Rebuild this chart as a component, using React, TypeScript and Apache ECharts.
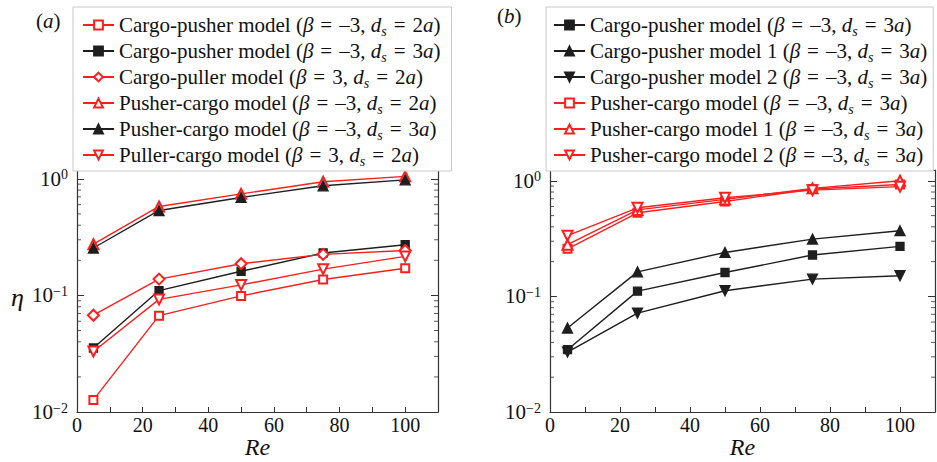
import React, { useEffect, useRef } from 'react';
import * as echarts from 'echarts';

// ---------- data ----------
const reValues = [5, 25, 50, 75, 100];

// panel (a)
const aCargoPusher2a = [0.0127, 0.067, 0.099, 0.137, 0.171];
const aCargoPusher3a = [0.0354, 0.11, 0.161, 0.231, 0.272];
const aCargoPuller2a = [0.0676, 0.138, 0.187, 0.225, 0.243];
const aPusherCargo2a = [0.275, 0.579, 0.743, 0.943, 1.05];
const aPusherCargo3a = [0.255, 0.535, 0.692, 0.871, 0.98];
const aPullerCargo2a = [0.033, 0.0924, 0.123, 0.168, 0.216];

// panel (b)
const bCargoPusher = [0.0346, 0.111, 0.161, 0.228, 0.271];
const bCargoPusher1 = [0.0533, 0.163, 0.24, 0.313, 0.37];
const bCargoPusher2 = [0.033, 0.0717, 0.112, 0.141, 0.151];
const bPusherCargo = [0.258, 0.529, 0.662, 0.85, 0.93];
const bPusherCargo1 = [0.28, 0.56, 0.69, 0.86, 1.0];
const bPusherCargo2 = [0.335, 0.584, 0.713, 0.83, 0.89];

const xTickLabels = [0, 20, 40, 60, 80, 100];
const yMajorTicks = [0.01, 0.1, 1];
const yMinorTicks = [
  0.02, 0.03, 0.04, 0.05, 0.06, 0.07, 0.08, 0.09,
  0.2, 0.3, 0.4, 0.5, 0.6, 0.7, 0.8, 0.9,
];

const X_MIN = 0;
const X_MAX = 110;
const Y_MIN = 0.01;
const Y_MAX_A = 1.19;
const Y_MAX_B = 1.24;

// ---------- styles ----------
const FONT = "'Liberation Serif', serif";
const RED = '#ff1e1e';
const BLACK = '#1e1e1e';
const AXIS = '#333';
const TEXT = '#111';

type Entry = {
  label: string;
  beta: string;
  d: string;
  data: number[];
  color: string;
  symbol: string;
  rotate: number;
  size: number;
};

const entriesA: Entry[] = [
  { label: 'Cargo-pusher model', beta: '–3', d: '2', data: aCargoPusher2a, color: RED, symbol: 'emptyRect', rotate: 0, size: 8 },
  { label: 'Cargo-pusher model', beta: '–3', d: '3', data: aCargoPusher3a, color: BLACK, symbol: 'rect', rotate: 0, size: 8 },
  { label: 'Cargo-puller model', beta: '3', d: '2', data: aCargoPuller2a, color: RED, symbol: 'emptyDiamond', rotate: 0, size: 11 },
  { label: 'Pusher-cargo model', beta: '–3', d: '2', data: aPusherCargo2a, color: RED, symbol: 'emptyTriangle', rotate: 0, size: 10 },
  { label: 'Pusher-cargo model', beta: '–3', d: '3', data: aPusherCargo3a, color: BLACK, symbol: 'triangle', rotate: 0, size: 10 },
  { label: 'Puller-cargo model', beta: '3', d: '2', data: aPullerCargo2a, color: RED, symbol: 'emptyTriangle', rotate: 180, size: 10 },
];

const entriesB: Entry[] = [
  { label: 'Cargo-pusher model', beta: '–3', d: '3', data: bCargoPusher, color: BLACK, symbol: 'rect', rotate: 0, size: 8 },
  { label: 'Cargo-pusher model 1', beta: '–3', d: '3', data: bCargoPusher1, color: BLACK, symbol: 'triangle', rotate: 0, size: 10 },
  { label: 'Cargo-pusher model 2', beta: '–3', d: '3', data: bCargoPusher2, color: BLACK, symbol: 'triangle', rotate: 180, size: 10 },
  { label: 'Pusher-cargo model', beta: '–3', d: '3', data: bPusherCargo, color: RED, symbol: 'emptyRect', rotate: 0, size: 8 },
  { label: 'Pusher-cargo model 1', beta: '–3', d: '3', data: bPusherCargo1, color: RED, symbol: 'emptyTriangle', rotate: 0, size: 10 },
  { label: 'Pusher-cargo model 2', beta: '–3', d: '3', data: bPusherCargo2, color: RED, symbol: 'emptyTriangle', rotate: 180, size: 10 },
];

const nameOf = (panel: string, e: Entry) => `(${panel}) ${e.label} (β = ${e.beta}, ds = ${e.d}a)`;
const richOf = (e: Entry) =>
  `{t|${e.label} (}{i|β}{e|=}{t|${e.beta}, }{i|d}{s|s}{e|=}{t|${e.d}}{i|a}{t|)}`;

const richMap: Record<string, string> = {};
entriesA.forEach((e) => {
  richMap[nameOf('a', e)] = richOf(e);
});
entriesB.forEach((e) => {
  richMap[nameOf('b', e)] = richOf(e);
});

const LEG_FS = 21;
const legendRich = {
  t: { fontFamily: FONT, fontSize: LEG_FS, lineHeight: 26, color: TEXT },
  i: { fontFamily: FONT, fontSize: LEG_FS, lineHeight: 26, color: TEXT, fontStyle: 'italic' },
  e: { fontFamily: FONT, fontSize: LEG_FS, lineHeight: 26, color: TEXT, padding: [0, 7, 0, 7] },
  s: {
    fontFamily: FONT,
    fontSize: 14,
    lineHeight: 14,
    color: TEXT,
    fontStyle: 'italic',
    padding: [12, 0, 0, 0],
    verticalAlign: 'bottom',
  },
};

function makeSeries(panel: string, e: Entry, xAxisIndex: number, yAxisIndex: number) {
  return {
    type: 'line',
    name: nameOf(panel, e),
    xAxisIndex,
    yAxisIndex,
    data: reValues.map((x, i) => [x, e.data[i]]),
    symbol: e.symbol,
    symbolSize: e.size,
    symbolRotate: e.rotate,
    showAllSymbol: true,
    lineStyle: { color: e.color, width: 1.4 },
    itemStyle: { color: e.color, borderColor: e.color, borderWidth: 1.3 },
    z: 3,
  };
}

// minor ticks of the log axes, drawn as tiny scatter marks on the left and right frame edges
function minorTickSeries(xAxisIndex: number, yAxisIndex: number, atX: number, offset: number) {
  return {
    type: 'scatter',
    xAxisIndex,
    yAxisIndex,
    silent: true,
    clip: false,
    z: 1,
    data: yMinorTicks.map((v) => [atX, v]),
    symbol: 'rect',
    symbolSize: [4, 1],
    symbolOffset: [offset, 0],
    itemStyle: { color: AXIS },
  };
}

function xAxis(gridIndex: number) {
  return {
    type: 'value',
    gridIndex,
    min: X_MIN,
    max: X_MAX,
    interval: 10,
    name: 'Re',
    nameLocation: 'middle',
    nameGap: 23,
    nameMoveOverlap: false,
    nameTextStyle: {
      fontFamily: FONT,
      fontSize: 24,
      lineHeight: 24,
      fontStyle: 'italic',
      color: TEXT,
      verticalAlign: 'top',
    },
    axisLine: { show: true, lineStyle: { color: AXIS, width: 1.2 } },
    axisTick: { show: true, inside: true, length: 5, lineStyle: { color: AXIS, width: 1 } },
    axisLabel: {
      margin: 3,
      fontFamily: FONT,
      fontSize: 20,
      color: TEXT,
      formatter: (v: number) => (xTickLabels.indexOf(v) >= 0 ? String(v) : ''),
    },
    splitLine: { show: false },
  };
}

const supLabel = (v: number) => {
  const e = Math.round(Math.log10(v));
  const isMajor = yMajorTicks.some((t) => Math.abs(t - v) / t < 1e-6);
  if (!isMajor) return '';
  const ex = e === 0 ? '0' : '−' + String(-e);
  return `{b|10}{p|${ex}}`;
};

function yAxis(gridIndex: number, position: 'left' | 'right', max: number) {
  const isLeft = position === 'left';
  return {
    type: 'log',
    gridIndex,
    position,
    logBase: 10,
    min: Y_MIN,
    max,
    axisLine: { show: true, onZero: false, lineStyle: { color: AXIS, width: 1.2 } },
    axisTick: { show: true, inside: true, length: 7, lineStyle: { color: AXIS, width: 1 } },
    axisLabel: {
      show: isLeft,
      margin: 9,
      formatter: supLabel,
      rich: {
        b: { fontFamily: FONT, fontSize: 21, lineHeight: 22, color: TEXT },
        p: { fontFamily: FONT, fontSize: 14, lineHeight: 14, color: TEXT, verticalAlign: 'top' },
      },
    },
    splitLine: { show: false },
    minorTick: { show: false },
  };
}

function legend(panel: string, entries: Entry[], left: number, padding: number[]) {
  return {
    orient: 'vertical',
    left,
    top: 7,
    data: entries.map((e) => nameOf(panel, e)),
    selectedMode: false,
    itemWidth: 31,
    itemHeight: 11,
    itemGap: 0,
    padding,
    backgroundColor: '#fff',
    borderColor: '#c8c8c8',
    borderWidth: 1,
    formatter: (name: string) => richMap[name] || name,
    textStyle: { fontFamily: FONT, fontSize: LEG_FS, color: TEXT, rich: legendRich },
  };
}

const panelLabelRich = {
  t: { fontFamily: FONT, fontSize: 21, fill: TEXT },
  i: { fontFamily: FONT, fontSize: 21, fill: TEXT, fontStyle: 'italic' },
};

export default function App() {
  const ref = useRef<HTMLDivElement>(null);

  useEffect(() => {
    if (!ref.current) return;
    const chart = echarts.init(ref.current, null, { renderer: 'svg' });
    const option: any = {
      animation: false,
      backgroundColor: '#fff',
      textStyle: { fontFamily: FONT },
      grid: [
        { left: 77, top: 170, width: 361, height: 242, outerBoundsMode: 'none', containLabel: false },
        { left: 550, top: 170, width: 385, height: 242, outerBoundsMode: 'none', containLabel: false },
      ],
      xAxis: [xAxis(0), xAxis(1)],
      yAxis: [
        yAxis(0, 'left', Y_MAX_A),
        yAxis(0, 'right', Y_MAX_A),
        yAxis(1, 'left', Y_MAX_B),
        yAxis(1, 'right', Y_MAX_B),
      ],
      legend: [legend('a', entriesA, 73, [5, 11, 3, 9]), legend('b', entriesB, 546, [5, 6, 3, 7])],
      graphic: [
        {
          type: 'text',
          left: 36,
          top: 10,
          style: { text: '{t|(}{i|a}{t|)}', rich: panelLabelRich, fill: TEXT },
        },
        {
          type: 'text',
          left: 497,
          top: 5,
          style: { text: '{t|(}{i|b}{t|)}', rich: panelLabelRich, fill: TEXT },
        },
        {
          type: 'text',
          left: 11,
          top: 284,
          style: { text: 'η', fontFamily: FONT, fontSize: 26, fontStyle: 'italic', fill: TEXT },
        },
      ],
      series: [
        minorTickSeries(0, 0, X_MIN, 2),
        minorTickSeries(0, 0, X_MAX, -2),
        minorTickSeries(1, 2, X_MIN, 2),
        minorTickSeries(1, 2, X_MAX, -2),
        ...entriesA.map((e) => makeSeries('a', e, 0, 0)),
        ...entriesB.map((e) => makeSeries('b', e, 1, 2)),
      ],
    };
    chart.setOption(option);
    return () => chart.dispose();
  }, []);

  return (
    <div
      ref={ref}
      style={{ position: 'fixed', left: 0, top: 0, width: 937, height: 462, background: '#fff' }}
    />
  );
}
